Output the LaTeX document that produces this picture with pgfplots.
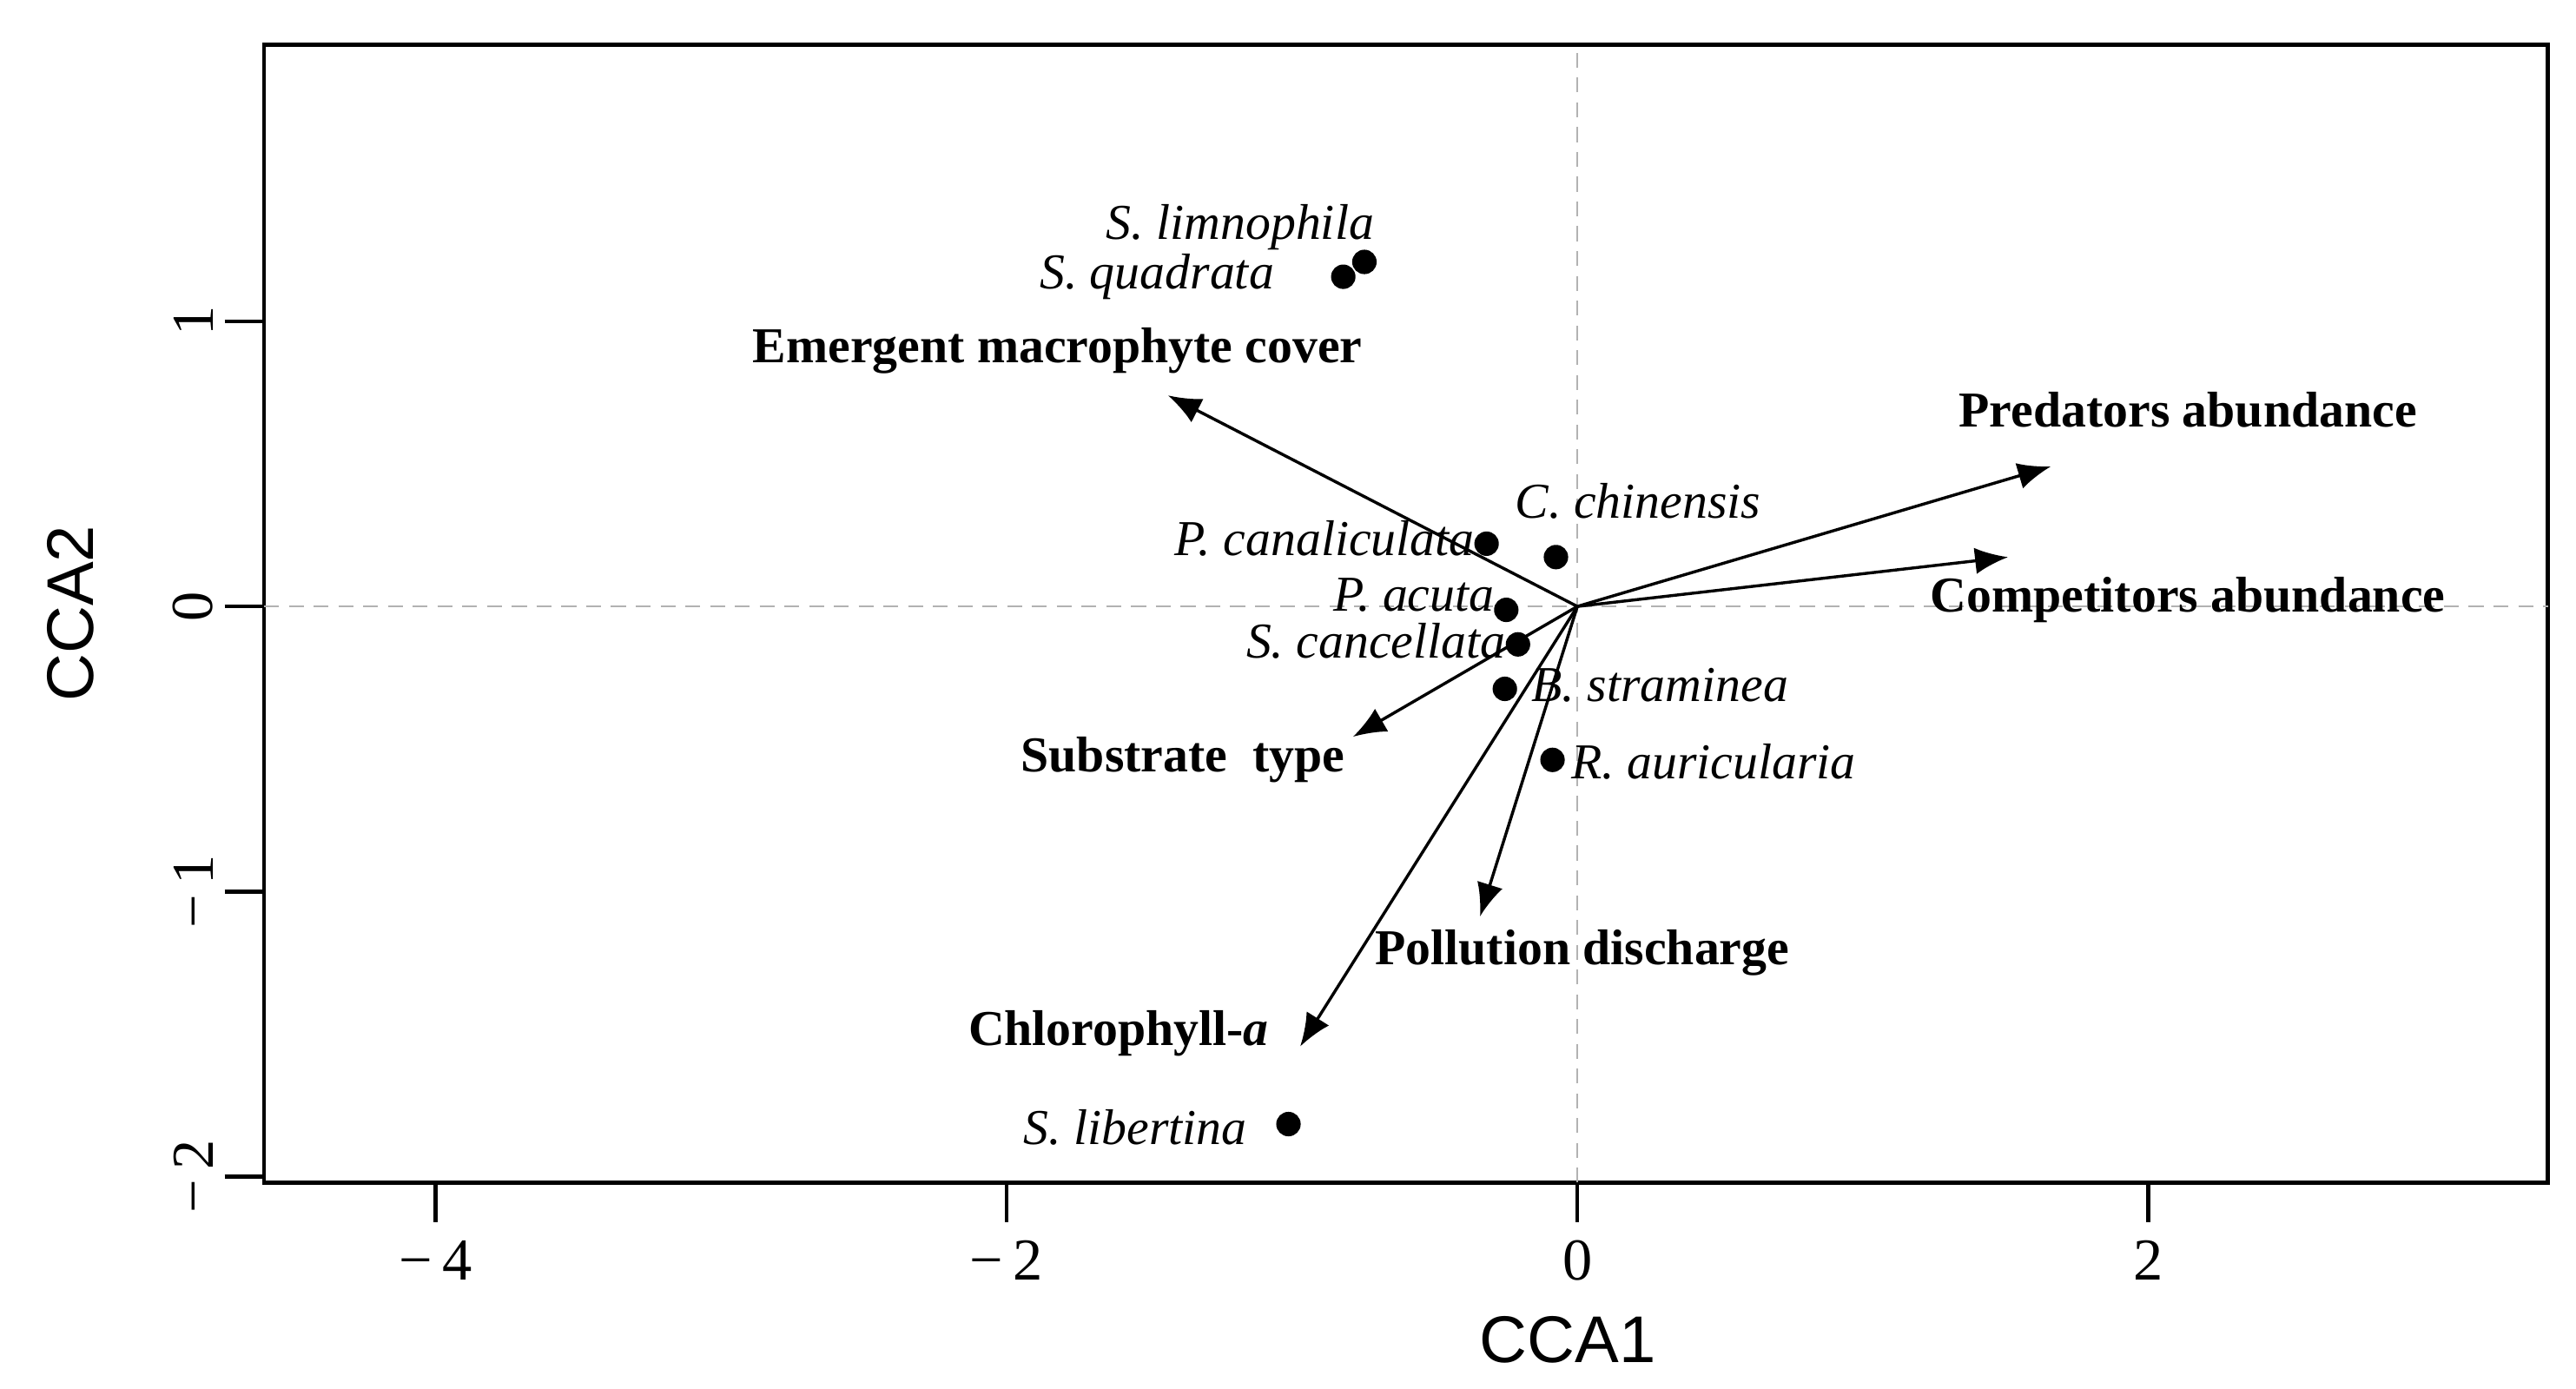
\documentclass[border=0pt]{standalone}
\usepackage{fontspec}
\setmainfont{Liberation Serif}
\newfontfamily\axfont{Liberation Sans}
\usepackage{pgfplots}
\pgfplotsset{compat=1.18}
\usetikzlibrary{arrows.meta}

\begin{document}
\begin{tikzpicture}
\begin{axis}[
    name=ax,
    scale only axis,
    width=691.5pt, height=344.5pt,
    xmin=-4.6, xmax=3.4, ymin=-2.02, ymax=1.97,
    axis line style={line width=1.2pt},
    xtick={-4,-2,0,2}, ytick={-2,-1,0,1},
    xticklabels={−\,4,−\,2,0,2},
    yticklabels={−\,2,−\,1,0,1},
    tick align=outside, tick pos=left,
    major tick length=12pt,
    every tick/.style={black, line width=1.2pt},
    tick label style={font=\fontsize{18}{20}\selectfont},
    yticklabel style={rotate=90, anchor=south, xshift=0pt},
    xticklabel style={yshift=-2pt},
    xlabel={\axfont CCA1}, ylabel={\axfont CCA2},
    label style={font=\fontsize{20}{22}\selectfont},
    xlabel style={yshift=-4pt, xshift=49pt},
    ylabel style={yshift=17pt},
    clip=false,
]
% reference lines
\addplot[gray!60, line width=0.6pt, dash pattern=on 4.5pt off 3pt] coordinates {(-4.6,0) (3.4,0)};
\addplot[gray!60, line width=0.6pt, dash pattern=on 4.5pt off 3pt] coordinates {(0,-2.02) (0,1.97)};

% environmental vectors
\pgfplotsset{vec/.style={black, line width=0.9pt, -{Latex[length=10pt,width=8pt]}}}
\addplot[vec] coordinates {(0,0) (-1.434,0.740)};
\addplot[vec] coordinates {(0,0) (1.659,0.491)};
\addplot[vec] coordinates {(0,0) (1.509,0.173)};
\addplot[vec] coordinates {(0,0) (-0.786,-0.457)};
\addplot[vec] coordinates {(0,0) (-0.341,-1.087)};
\addplot[vec] coordinates {(0,0) (-0.971,-1.543)};

% species scores
\addplot[only marks, mark=*, mark size=3.5pt, black] coordinates {
(-0.746,1.208) (-0.820,1.156) (-0.318,0.220) (-0.075,0.173) (-0.249,-0.012)
(-0.208,-0.133) (-0.254,-0.289) (-0.087,-0.538) (-1.012,-1.815)};

\begin{scope}[every node/.style={font=\fontsize{15.2}{17}\selectfont, inner sep=0pt}]
\node[anchor=east] at (axis cs:-0.71,1.33) {\itshape S. limnophila};
\node[anchor=east] at (axis cs:-1.06,1.156) {\itshape S. quadrata};
\node[anchor=west] at (axis cs:-0.22,0.37) {\itshape C. chinensis};
\node[anchor=east] at (axis cs:-0.358,0.237) {\itshape P. canaliculata};
\node[anchor=east] at (axis cs:-0.289,0.04) {\itshape P. acuta};
\node[anchor=east] at (axis cs:-0.249,-0.121) {\itshape S. cancellata};
\node[anchor=west] at (axis cs:-0.162,-0.277) {\itshape B. straminea};
\node[anchor=west] at (axis cs:-0.023,-0.543) {\itshape R. auricularia};
\node[anchor=east] at (axis cs:-1.156,-1.827) {\itshape S. libertina};
\node at (axis cs:-1.821,0.896) {\bfseries Emergent macrophyte cover};
\node at (axis cs:2.139,0.688) {\bfseries Predators abundance};
\node at (axis cs:2.139,0.023) {\bfseries Competitors abundance};
\node at (axis cs:-1.382,-0.538) {\bfseries Substrate\ \ type};
\node at (axis cs:0.017,-1.214) {\bfseries Pollution discharge};
\node at (axis cs:-1.607,-1.497) {\bfseries Chlorophyll-\textit{a}};
\end{scope}
\end{axis}
\pgfresetboundingbox
\path ([shift={(-80pt,-62.5pt)}]ax.south west) rectangle ([shift={(8.5pt,13.5pt)}]ax.north east);
\end{tikzpicture}
\end{document}
